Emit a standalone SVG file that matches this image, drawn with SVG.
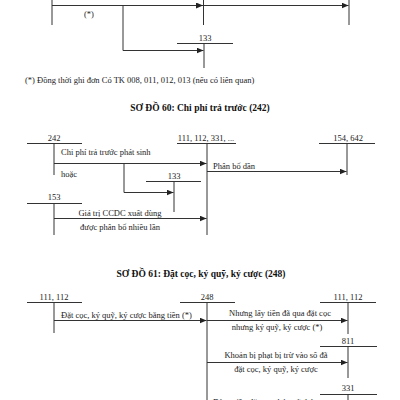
<svg xmlns="http://www.w3.org/2000/svg" width="400" height="400" viewBox="0 0 400 400">
<style>
text{font-family:"Liberation Serif","Times New Roman",serif;fill:#222;font-size:8.5px}
.t{font-weight:bold;font-size:9.5px;fill:#111}
.m{text-anchor:middle}
line,polyline{stroke:#333;stroke-width:1;fill:none}
.c{marker-end:url(#a)}
</style>
<defs>
<marker id="a" markerUnits="userSpaceOnUse" markerWidth="8" markerHeight="6" refX="7" refY="3" orient="auto">
<path d="M0,0 L7,3 L0,6 z" fill="#222"/>
</marker>
</defs>
<rect width="400" height="400" fill="#fff"/>

<!-- top partial section -->
<g id="top-a"><line x1="52" y1="0" x2="52" y2="25"/></g>
<g id="top-b"><line x1="203.5" y1="0" x2="203.5" y2="25"/></g>
<g id="top-c"><line x1="349" y1="0" x2="349" y2="25"/></g>
<g id="top-133"><text class="m" x="205" y="41">133</text><line x1="177" y1="43.5" x2="233" y2="43.5"/><line x1="204" y1="43.5" x2="204" y2="68"/></g>
<text x="84" y="17">(*)</text>
<text x="25" y="83" font-size="7.8">(*) Đồng thời ghi đơn Có TK 008, 011, 012, 013 (nếu có liên quan)</text>

<!-- titles -->
<text class="t m" x="200" y="111">SƠ ĐỒ 60: Chi phí trả trước (242)</text>
<text class="t m" x="201" y="277">SƠ ĐỒ 61: Đặt cọc, ký quỹ, ký cược (248)</text>

<!-- section 60 nodes -->
<g id="n242"><text class="m" x="54" y="141">242</text><line x1="27" y1="143.5" x2="82" y2="143.5"/><line x1="54" y1="143.5" x2="54" y2="175"/></g>
<g id="n111"><text class="m" x="206" y="141">111, 112, 331, ...</text><line x1="177" y1="143.5" x2="236" y2="143.5"/><line x1="207" y1="143.5" x2="207" y2="235"/></g>
<g id="n154"><text class="m" x="348" y="141">154, 642</text><line x1="319" y1="143.5" x2="375" y2="143.5"/><line x1="347" y1="143.5" x2="347" y2="175"/></g>
<g id="n133"><text class="m" x="174" y="179">133</text><line x1="146" y1="181.5" x2="201" y2="181.5"/><line x1="174" y1="181.5" x2="174" y2="212"/></g>
<g id="n153"><text class="m" x="54" y="200">153</text><line x1="27" y1="203.5" x2="82" y2="203.5"/><line x1="54" y1="203.5" x2="54" y2="235"/></g>

<!-- section 61 nodes -->
<g id="n111b"><text class="m" x="54" y="300">111, 112</text><line x1="27" y1="302.5" x2="82" y2="302.5"/><line x1="54" y1="302.5" x2="54" y2="333"/></g>
<g id="n248"><text class="m" x="207" y="300">248</text><line x1="180" y1="302.5" x2="235" y2="302.5"/><line x1="207" y1="302.5" x2="207" y2="400"/></g>
<g id="n111c"><text class="m" x="348" y="300">111, 112</text><line x1="320" y1="302.5" x2="376" y2="302.5"/><line x1="348" y1="302.5" x2="348" y2="334"/></g>
<g id="n811"><text class="m" x="348" y="344">811</text><line x1="320" y1="346.5" x2="377" y2="346.5"/><line x1="348" y1="346.5" x2="348" y2="378"/></g>
<g id="n331"><text class="m" x="348" y="391">331</text><line x1="320" y1="394.5" x2="377" y2="394.5"/><line x1="348" y1="394.5" x2="348" y2="400"/></g>

<!-- connectors -->
<g id="connectors">
<line class="c" x1="52" y1="5.5" x2="203" y2="5.5"/>
<line class="c" x1="203.5" y1="5.5" x2="348.5" y2="5.5"/>
<polyline class="c" points="123,5.5 123,50.5 203.5,50.5"/>

<line class="c" x1="54" y1="163.5" x2="206.5" y2="163.5"/>
<polyline class="c" points="124,163.5 124,192.5 173.5,192.5"/>
<line class="c" x1="54" y1="218.5" x2="206.5" y2="218.5"/>
<line class="c" x1="207" y1="171.5" x2="346.5" y2="171.5"/>

<line class="c" x1="54" y1="320.5" x2="206.5" y2="320.5"/>
<line class="c" x1="207" y1="320.5" x2="347.5" y2="320.5"/>
<line class="c" x1="207" y1="362.5" x2="347.5" y2="362.5"/>
</g>

<!-- connector labels -->
<text x="61" y="155" font-size="8">Chi phí trả trước phát sinh</text>
<text x="61" y="177">hoặc</text>
<text x="213" y="169">Phân bổ dần</text>
<text class="m" x="120" y="216">Giá trị CCDC xuất dùng</text>
<text class="m" x="120" y="230">được phân bổ nhiều lần</text>

<text x="61" y="318">Đặt cọc, ký quỹ, ký cược bằng tiền (*)</text>
<text class="m" x="280" y="316">Nhưng lấy tiền đã qua đặt cọc</text>
<text class="m" x="277" y="330">nhưng ký quỹ, ký cược (*)</text>
<text class="m" x="276" y="358">Khoản bị phạt bị trừ vào số đã</text>
<text class="m" x="276" y="372">đặt cọc, ký quỹ, ký cược</text>
<text x="213" y="405">Dùng tiền đặt cọc, ký quỹ, ký cược</text>
</svg>
